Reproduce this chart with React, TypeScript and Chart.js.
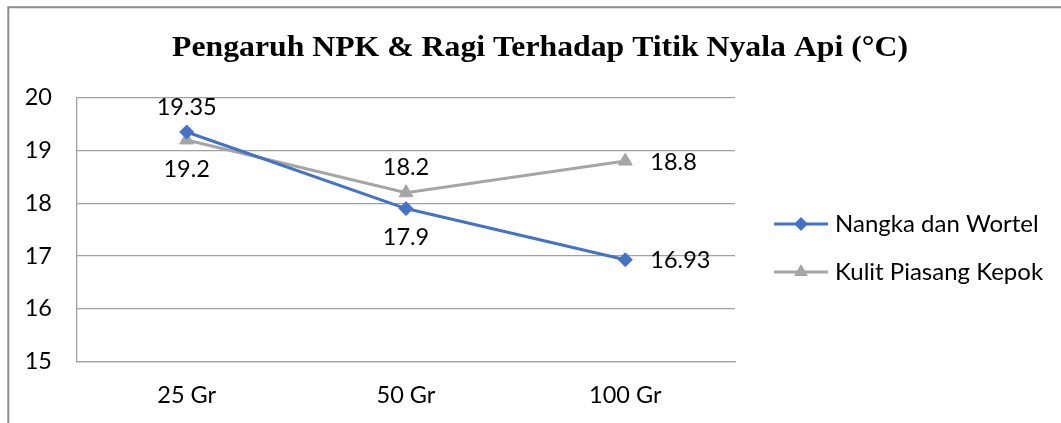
import React, { useEffect, useRef } from "react";
import { Chart, registerables } from "chart.js";

Chart.register(...registerables);

const titleText = "Pengaruh NPK & Ragi Terhadap Titik Nyala Api (°C)";
const categories = ["25 Gr", "50 Gr", "100 Gr"];
const seriesNames = ["Nangka dan Wortel", "Kulit Piasang Kepok"];
const nangkaValues = [19.35, 17.9, 16.93];
const kulitValues = [19.2, 18.2, 18.8];
const nangkaLabelPos = ["above", "below", "right"];
const kulitLabelPos = ["below", "above", "right"];
const yMin = 15;
const yMax = 20;
const yStep = 1;

const BLUE = "#4472C4";
const GRAY = "#A5A5A5";
const FONT = "Lato";
const TEXT_SIZE = 23.5;

function drawMarker(ctx: CanvasRenderingContext2D, style: string, x: number, y: number, r: number, color: string) {
  ctx.save();
  ctx.fillStyle = color;
  ctx.beginPath();
  if (style === "rectRot") {
    ctx.moveTo(x, y - r);
    ctx.lineTo(x + r, y);
    ctx.lineTo(x, y + r);
    ctx.lineTo(x - r, y);
  } else {
    const a = (2 * Math.PI) / 3;
    ctx.moveTo(x, y - r);
    ctx.lineTo(x + Math.sin(a) * r, y - Math.cos(a) * r);
    ctx.lineTo(x + Math.sin(2 * a) * r, y - Math.cos(2 * a) * r);
  }
  ctx.closePath();
  ctx.fill();
  ctx.restore();
}

const framePlugin = {
  id: "frame",
  beforeDraw(chart: any) {
    const ctx = chart.ctx as CanvasRenderingContext2D;
    ctx.save();
    ctx.strokeStyle = "#8c8c8c";
    ctx.lineWidth = 2;
    ctx.beginPath();
    ctx.moveTo(8.3, chart.height);
    ctx.lineTo(8.3, 7.2);
    ctx.lineTo(chart.width, 7.2);
    ctx.stroke();
    ctx.restore();
  },
};

const titlePlugin = {
  id: "stretchedTitle",
  afterDraw(chart: any) {
    const ctx = chart.ctx as CanvasRenderingContext2D;
    ctx.save();
    ctx.font = "bold 29px 'Liberation Serif'";
    ctx.fillStyle = "#000";
    ctx.textAlign = "center";
    ctx.textBaseline = "alphabetic";
    const w = ctx.measureText(titleText).width;
    const sx = 736 / w;
    ctx.translate(540, 56);
    ctx.scale(sx, 1);
    ctx.fillText(titleText, 0, 0);
    ctx.restore();
  },
};

const labelPlugin = {
  id: "pointLabels",
  afterDatasetsDraw(chart: any) {
    const ctx = chart.ctx as CanvasRenderingContext2D;
    ctx.save();
    ctx.font = `${TEXT_SIZE}px ${FONT}`;
    ctx.fillStyle = "#000";
    chart.data.datasets.forEach((ds: any, di: number) => {
      const meta = chart.getDatasetMeta(di);
      const positions = ds.labelPositions as string[];
      meta.data.forEach((pt: any, i: number) => {
        const text = String(ds.data[i]);
        const pos = positions[i];
        ctx.textBaseline = "middle";
        if (pos === "above") {
          ctx.textAlign = "center";
          ctx.fillText(text, pt.x, pt.y - 25);
        } else if (pos === "below") {
          ctx.textAlign = "center";
          ctx.fillText(text, pt.x, pt.y + 29);
        } else {
          ctx.textAlign = "left";
          ctx.fillText(text, pt.x + 25, pt.y + 1);
        }
      });
    });
    ctx.restore();
  },
};

const legendPlugin = {
  id: "customLegend",
  afterDraw(chart: any) {
    const ctx = chart.ctx as CanvasRenderingContext2D;
    ctx.save();
    const x0 = 774;
    const x1 = 828;
    const ys = [224, 272];
    chart.data.datasets.forEach((ds: any, i: number) => {
      const y = ys[i];
      ctx.strokeStyle = ds.borderColor;
      ctx.lineWidth = 3;
      ctx.beginPath();
      ctx.moveTo(x0, y);
      ctx.lineTo(x1, y);
      ctx.stroke();
      drawMarker(ctx, ds.pointStyle, (x0 + x1) / 2, y, ds.pointRadius, ds.borderColor);
      ctx.fillStyle = "#000";
      ctx.font = `24px ${FONT}`;
      ctx.textAlign = "left";
      ctx.textBaseline = "middle";
      ctx.fillText(ds.label, 835, y);
    });
    ctx.restore();
  },
};

export default function App() {
  const ref = useRef<HTMLCanvasElement | null>(null);
  useEffect(() => {
    if (!ref.current) return;
    const chart = new Chart(ref.current, {
      type: "line",
      data: {
        labels: categories,
        datasets: [
          {
            label: seriesNames[0],
            data: nangkaValues,
            borderColor: BLUE,
            backgroundColor: BLUE,
            borderWidth: 3,
            pointStyle: "rectRot",
            pointRadius: 7,
            pointBorderWidth: 1,
            pointBackgroundColor: BLUE,
            tension: 0,
            labelPositions: nangkaLabelPos,
          } as any,
          {
            label: seriesNames[1],
            data: kulitValues,
            borderColor: GRAY,
            backgroundColor: GRAY,
            borderWidth: 3,
            pointStyle: "triangle",
            pointRadius: 8,
            pointBorderWidth: 1,
            pointBackgroundColor: GRAY,
            tension: 0,
            labelPositions: kulitLabelPos,
          } as any,
        ],
      },
      options: {
        responsive: false,
        animation: false,
        layout: { padding: { left: 0, right: 326, top: 97.7, bottom: 0 } },
        plugins: {
          legend: { display: false },
          tooltip: { enabled: false },
          title: { display: false },
        },
        scales: {
          x: {
            offset: true,
            grid: { display: false, drawTicks: false },
            border: { display: true, color: "#a0a0a0", width: 1.3 },
            ticks: { color: "#000", font: { family: FONT, size: TEXT_SIZE }, padding: 19.5, maxRotation: 0 },
            afterFit(scale: any) {
              scale.height = 61.3;
            },
          },
          y: {
            min: yMin,
            max: yMax,
            ticks: { stepSize: yStep, color: "#000", font: { family: FONT, size: TEXT_SIZE }, padding: 25 },
            grid: { color: "#a0a0a0", lineWidth: 1.3, drawTicks: false },
            border: { display: true, color: "#a0a0a0", width: 1.3 },
            afterFit(scale: any) {
              scale.width = 77;
            },
          },
        },
      },
      plugins: [framePlugin, titlePlugin, labelPlugin, legendPlugin],
    });
    return () => chart.destroy();
  }, []);
  return (
    <div style={{ position: "absolute", left: 0, top: 0, width: 1061, height: 423, background: "#fff" }}>
      <canvas ref={ref} width={1061} height={423} style={{ width: 1061, height: 423, display: "block" }} />
    </div>
  );
}
